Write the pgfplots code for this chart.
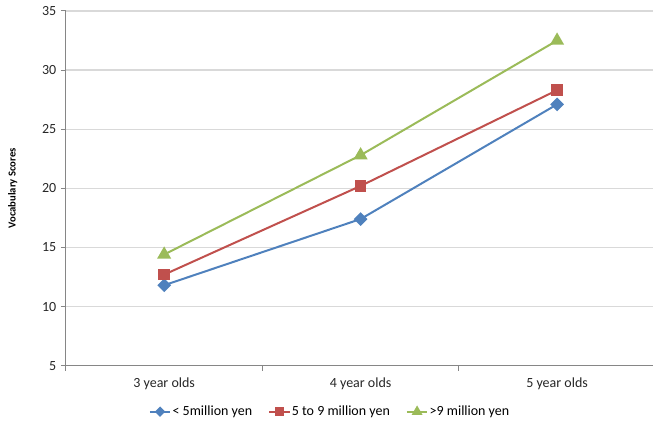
\documentclass[border=0pt]{standalone}
\usepackage{fontspec}
\setmainfont{Carlito}
\usepackage{pgfplots}
\pgfplotsset{compat=1.18}
\definecolor{cblue}{HTML}{4F81BD}
\definecolor{cred}{HTML}{C0504D}
\definecolor{cgreen}{HTML}{9BBB59}
\definecolor{axgrey}{HTML}{868686}
\definecolor{gridgrey}{HTML}{D9D9D9}
\begin{document}
\begin{tikzpicture}
\path (-49.5pt,-40.5pt) rectangle (441pt,274.5pt);
\begin{axis}[
  at={(0,0)}, anchor=south west,
  scale only axis, width=441pt, height=266.25pt,
  xmin=-0.5, xmax=2.49, ymin=5, ymax=35,
  ytick={5,10,...,35},
  xtick={0,1,2},
  xticklabels={3 year olds,4 year olds,5 year olds},
  minor xtick={-0.5,0.5,1.5,2.5},
  major x tick style={draw=none},
  minor tick length=3.75pt,
  major tick length=3.75pt,
  tick align=outside,
  tick style={axgrey, line width=0.75pt},
  axis x line*=bottom, axis y line*=left,
  axis line style={axgrey, line width=0.75pt, -},
  ymajorgrids, grid style={gridgrey, line width=1pt},
  /pgf/number format/assume math mode=true,
  ticklabel style={font=\fontsize{10.5}{12}\selectfont, text=black!85},
  xticklabel style={yshift=-1.5pt},
  ylabel={Vocabulary Scores},
  ylabel style={at={(axis description cs:-0.0907,0.5)}, anchor=center, font=\bfseries\fontsize{8}{10}\selectfont},
  legend style={at={(0.449,-0.13)}, anchor=center, draw=none, font=\fontsize{10.5}{12}\selectfont, legend columns=3, column sep=0pt,
    nodes={inner sep=1pt},
    /tikz/every even column/.append style={column sep=11pt}},
  legend image code/.code={%
    \draw[mark repeat=2, mark phase=2, every mark/.append style={scale=0.7}, #1] plot coordinates {(0cm,0cm) (0.27cm,0cm) (0.54cm,0cm)};},
  clip=false,
]
\addplot[cblue, line width=1.5pt, mark=square*, mark size=2.9pt, mark options={rotate=45, solid}] coordinates {(0,11.8) (1,17.4) (2,27.1)};
\addlegendentry{< 5million yen}
\addplot[cred, line width=1.5pt, mark=square*, mark size=3.6pt] coordinates {(0,12.7) (1,20.2) (2,28.3)};
\addlegendentry{5 to 9 million yen}
\addplot[cgreen, line width=1.5pt, mark=triangle*, mark size=4.6pt] coordinates {(0,14.4) (1,22.8) (2,32.5)};
\addlegendentry{>9 million yen}
\end{axis}
\end{tikzpicture}
\end{document}
